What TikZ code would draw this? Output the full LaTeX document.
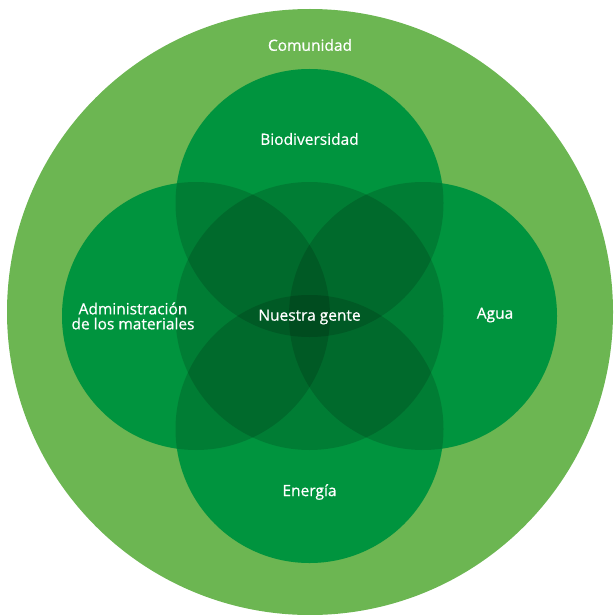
\documentclass[tikz,border=0pt]{standalone}
\usepackage{fontspec}
\setsansfont{Open Sans}[FakeBold=0.6]
\definecolor{comgreen}{HTML}{6CB652}
\definecolor{areagreen}{HTML}{00AE4A}

\begin{document}
\begin{tikzpicture}[x=1pt,y=-1pt]
	\tikzset{label/.style={text=white,font=\sffamily\fontsize{15.5}{15}\selectfont,align=center,inner sep=0pt}}
	\tikzset{shade/.style={fill=black,fill opacity=.15}}
	\useasboundingbox (0,0) rectangle (613,615);
	\clip (0,0) rectangle (613,615);

	% community ring
	\fill[comgreen] (310,312) circle (303);

	% the five areas, first solid, then darkened where they overlap
	\fill[areagreen] (309.5,203) circle (134);
	\fill[areagreen] (196,316) circle (134);
	\fill[areagreen] (423,316) circle (134);
	\fill[areagreen] (309.5,429) circle (134);
	\fill[areagreen] (309.5,316) circle (134);
	\fill[shade] (309.5,203) circle (134);
	\fill[shade] (196,316) circle (134);
	\fill[shade] (423,316) circle (134);
	\fill[shade] (309.5,429) circle (134);
	\fill[shade] (309.5,316) circle (134);

	\node[label] (com) at (310,45) {Comunidad};
	\node[label] (bio) at (309.5,139) {Biodiversidad};
	\node[label] (mat) at (133,316) {Administración\\de los materiales};
	\node[label] (agua) at (495,315) {Agua};
	\node[label] (gente) at (309.5,317) {Nuestra gente};
	\node[label] (ener) at (309.5,492) {Energía};
\end{tikzpicture}
\end{document}
